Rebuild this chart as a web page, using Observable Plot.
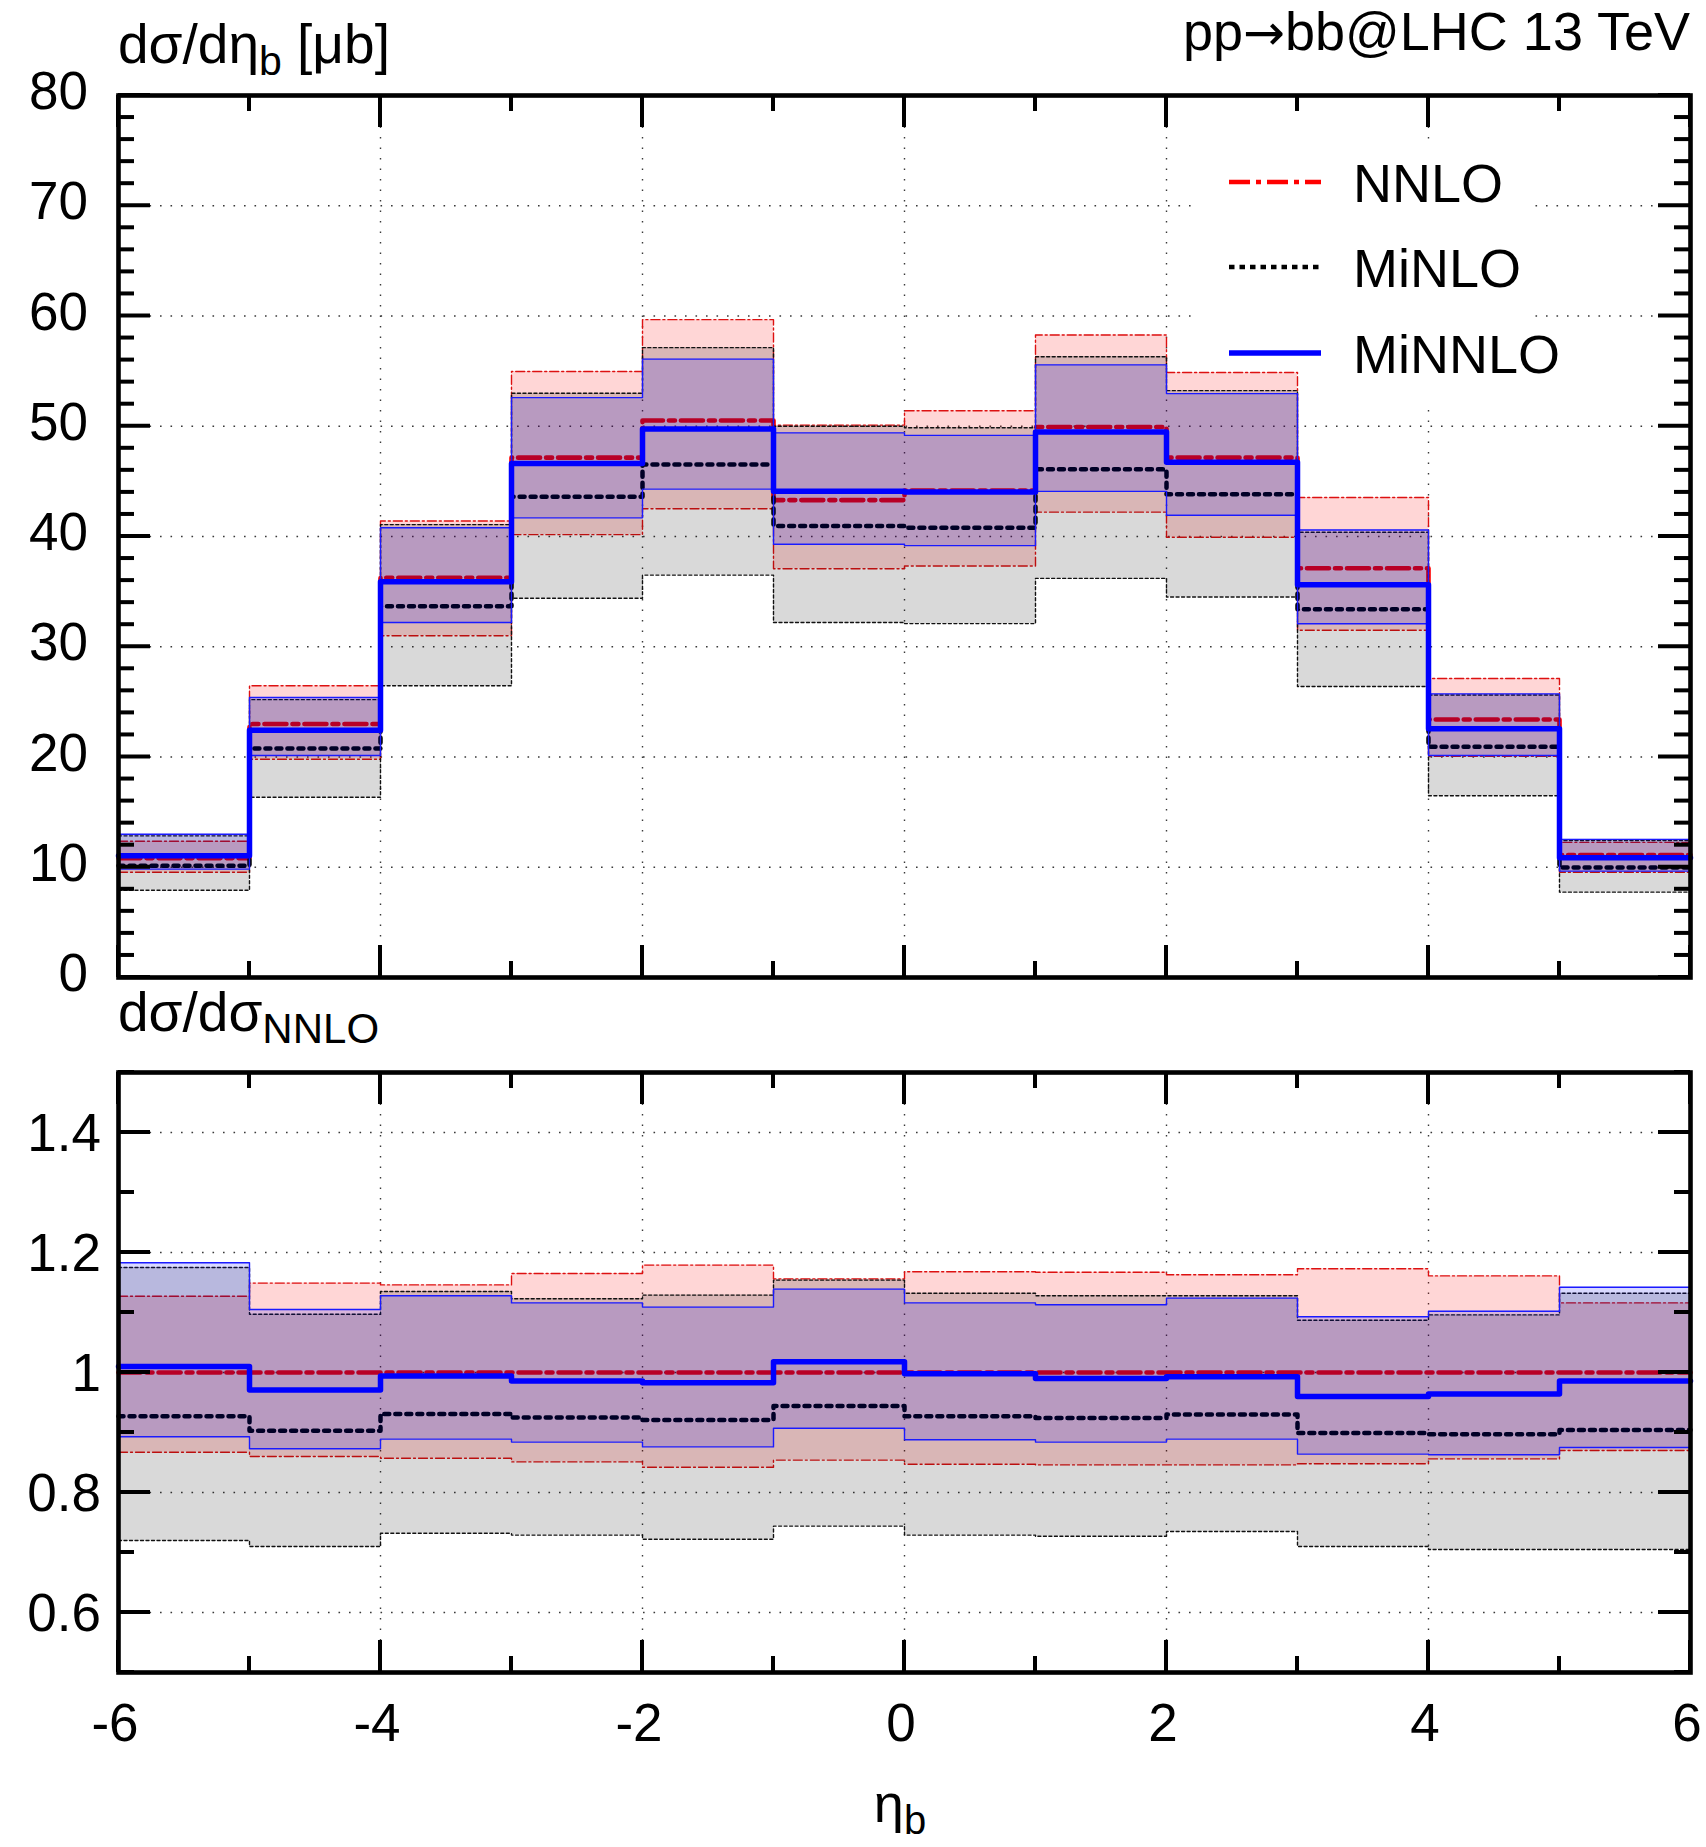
<!DOCTYPE html>
<html>
<head>
<meta charset="utf-8">
<script src="https://cdn.jsdelivr.net/npm/d3@7"></script>
<script src="https://cdn.jsdelivr.net/npm/@observablehq/plot@0.6"></script>
<style>
html, body { margin: 0; padding: 0; background: #fff; }
#chart { position: relative; width: 1706px; height: 1847px; background: #fff; }
#chart svg { display: block; }
</style>
</head>
<body>
<div id="chart"></div>
<script>
// ---------- data ----------
const etaEdges = [-6, -5, -4, -3, -2, -1, 0, 1, 2, 3, 4, 5, 6];

// upper panel: dsigma/deta_b [mub]
const nnlo     = [10.83, 22.99, 36.25, 47.15, 50.52, 43.30, 44.17, 49.93, 47.15, 37.12, 23.40, 11.10];
const nnloLo   = [9.55, 19.80, 31.00, 40.17, 42.52, 37.08, 37.33, 42.21, 39.93, 31.49, 20.07, 9.55];
const nnloHi   = [12.36, 26.46, 41.40, 54.97, 59.67, 50.10, 51.40, 58.28, 54.87, 43.54, 27.12, 12.26];
const minlo    = [10.14, 20.76, 33.68, 43.60, 46.52, 40.96, 40.80, 46.10, 43.84, 33.40, 20.94, 9.97];
const minloLo  = [7.92, 16.35, 26.46, 34.40, 36.50, 32.20, 32.10, 36.20, 34.51, 26.39, 16.49, 7.74];
const minloHi  = [12.85, 25.20, 41.08, 52.99, 57.13, 50.00, 49.86, 56.30, 53.23, 40.38, 25.63, 12.43];
const minnlo   = [11.04, 22.43, 35.90, 46.63, 49.76, 44.10, 44.03, 49.48, 46.73, 35.63, 22.57, 10.87];
const minnloLo = [9.83, 20.14, 32.20, 41.69, 44.30, 39.30, 39.17, 44.09, 41.93, 32.08, 20.14, 9.65];
const minnloHi = [13.00, 25.40, 40.80, 52.60, 56.09, 49.40, 49.17, 55.57, 52.96, 40.59, 25.73, 12.53];

// lower panel: ratio to NNLO
const rNnlo     = [1, 1, 1, 1, 1, 1, 1, 1, 1, 1, 1, 1];
const rNnloLo   = [0.867, 0.860, 0.857, 0.851, 0.842, 0.854, 0.847, 0.846, 0.846, 0.848, 0.856, 0.870];
const rNnloHi   = [1.127, 1.149, 1.146, 1.165, 1.179, 1.156, 1.168, 1.167, 1.163, 1.173, 1.161, 1.116];
const rMinlo    = [0.927, 0.903, 0.931, 0.925, 0.921, 0.944, 0.927, 0.924, 0.930, 0.899, 0.897, 0.904];
const rMinloLo  = [0.720, 0.710, 0.732, 0.729, 0.722, 0.744, 0.729, 0.727, 0.735, 0.710, 0.705, 0.705];
const rMinloHi  = [1.175, 1.097, 1.135, 1.123, 1.129, 1.154, 1.132, 1.128, 1.128, 1.087, 1.096, 1.132];
const rMinnlo   = [1.010, 0.971, 0.994, 0.986, 0.983, 1.018, 0.998, 0.990, 0.993, 0.960, 0.964, 0.986];
const rMinnloLo = [0.893, 0.873, 0.889, 0.884, 0.876, 0.907, 0.888, 0.884, 0.889, 0.864, 0.863, 0.875];
const rMinnloHi = [1.183, 1.105, 1.128, 1.116, 1.109, 1.139, 1.116, 1.113, 1.124, 1.093, 1.102, 1.142];

// ticks / labels
const xMajorTicks = [-6, -4, -2, 0, 2, 4, 6];
const xMinorTicks = [-5, -3, -1, 1, 3, 5];
const xGridLines = [-4, -2, 0, 2, 4];
const xTickLabels = ["-6", "-4", "-2", "0", "2", "4", "6"];
const yTopMajor = [0, 10, 20, 30, 40, 50, 60, 70, 80];
const yTopMinor = [2, 4, 6, 8, 12, 14, 16, 18, 22, 24, 26, 28, 32, 34, 36, 38, 42, 44, 46, 48, 52, 54, 56, 58, 62, 64, 66, 68, 72, 74, 76, 78];
const yTopGrid = [10, 20, 30, 40, 50, 60, 70];
const yTopLabels = ["0", "10", "20", "30", "40", "50", "60", "70", "80"];
const yBotMajor = [0.6, 0.8, 1.0, 1.2, 1.4];
const yBotMinor = [0.5, 0.7, 0.9, 1.1, 1.3, 1.5];
const yBotGrid = [0.6, 0.8, 1.0, 1.2, 1.4];
const yBotLabels = ["0.6", "0.8", "1", "1.2", "1.4"];

const seriesNames = ["NNLO", "MiNLO", "MiNNLO"];

// ---------- styles ----------
const FONT = "'Liberation Sans', Arial, Helvetica, sans-serif";
const TICKFONT = 53;
const styles = {
  NNLO:   {color: "#ff0000", alpha: 0.16, width: 4.6, dash: "22,6,6,6", edge: "#dd1111", edgeDash: "9,3,2,3"},
  MiNLO:  {color: "#000000", alpha: 0.15, width: 4.5, dash: "5,6", edge: "#111111", edgeDash: "3,2.5"},
  MiNNLO: {color: "#0000ff", alpha: 0.15, width: 5.5, dash: null, edge: "#1a1aff", edgeDash: null}
};

function steps(c, lo, hi) {
  const rows = c.map((v, i) => ({x: etaEdges[i], c: v, lo: lo[i], hi: hi[i]}));
  rows.push({...rows[rows.length - 1], x: etaEdges[etaEdges.length - 1]});
  return rows;
}

const W = 1706, ML = 118, MR = 16;

function panel({height, marginTop, marginBottom, yDomain, yGrid, data}) {
  const gridStyle = {stroke: "#3a3a3a", strokeWidth: 1.4, strokeDasharray: "1.6,8.9"};
  const marks = [
    Plot.ruleY(yGrid, gridStyle),
    Plot.ruleX(xGridLines, gridStyle)
  ];
  data.forEach((rows, k) => {
    const s = styles[seriesNames[k]];
    marks.push(Plot.areaY(rows, {x: "x", y1: "lo", y2: "hi", curve: "step-after", fill: s.color, fillOpacity: s.alpha}));
    const edge = {x: "x", curve: "step-after", stroke: s.edge, strokeWidth: 1.4};
    if (s.edgeDash) edge.strokeDasharray = s.edgeDash;
    marks.push(Plot.line(rows, {...edge, y: "lo"}));
    marks.push(Plot.line(rows, {...edge, y: "hi"}));
    const cen = {x: "x", y: "c", curve: "step-after", stroke: s.color, strokeWidth: s.width};
    if (s.dash) cen.strokeDasharray = s.dash;
    marks.push(Plot.line(rows, cen));
  });
  marks.push(Plot.frame({stroke: "#000", strokeWidth: 4.6}));
  return Plot.plot({
    width: W, height, marginLeft: ML, marginRight: MR, marginTop, marginBottom,
    x: {domain: [-6, 6], axis: null},
    y: {domain: yDomain, axis: null},
    style: {background: "transparent", overflow: "visible"},
    marks
  });
}

function scalesOf(chart) {
  const sx = chart.scale("x"), sy = chart.scale("y");
  return {
    x: d3.scaleLinear(sx.domain, sx.range),
    y: d3.scaleLinear(sy.domain, sy.range),
    xr: sx.range, yr: sy.range
  };
}

function addTicks(chart, yMajor, yMinor) {
  const svg = d3.select(chart);
  const {x, y, xr, yr} = scalesOf(chart);
  const g = svg.append("g").attr("stroke", "#000").attr("stroke-width", 4);
  const L = 32, l = 16;
  const yBottom = Math.max(...yr), yTop = Math.min(...yr);
  const xLeft = Math.min(...xr), xRight = Math.max(...xr);
  for (const [vals, len] of [[xMajorTicks, L], [xMinorTicks, l]]) {
    for (const v of vals) {
      g.append("line").attr("x1", x(v)).attr("x2", x(v)).attr("y1", yTop).attr("y2", yTop + len);
      g.append("line").attr("x1", x(v)).attr("x2", x(v)).attr("y1", yBottom).attr("y2", yBottom - len);
    }
  }
  for (const [vals, len] of [[yMajor, L], [yMinor, l]]) {
    for (const v of vals) {
      g.append("line").attr("y1", y(v)).attr("y2", y(v)).attr("x1", xLeft).attr("x2", xLeft + len);
      g.append("line").attr("y1", y(v)).attr("y2", y(v)).attr("x1", xRight).attr("x2", xRight - len);
    }
  }
  return {x, y};
}

function txt(sel, x, y, size, anchor) {
  return sel.append("text").attr("x", x).attr("y", y)
    .attr("font-family", FONT).attr("font-size", size).attr("fill", "#000")
    .attr("text-anchor", anchor || "start");
}

// ---------- build ----------
const container = document.getElementById("chart");

const upperH = 990;
const upper = panel({
  height: upperH, marginTop: 95, marginBottom: 13, yDomain: [0, 80], yGrid: yTopGrid,
  data: [steps(nnlo, nnloLo, nnloHi), steps(minlo, minloLo, minloHi), steps(minnlo, minnloLo, minnloHi)]
});
container.appendChild(upper);

const lower = panel({
  height: 857, marginTop: 82, marginBottom: 175, yDomain: [0.5, 1.5], yGrid: yBotGrid,
  data: [steps(rNnlo, rNnloLo, rNnloHi), steps(rMinlo, rMinloLo, rMinloHi), steps(rMinnlo, rMinnloLo, rMinnloHi)]
});
container.appendChild(lower);

// upper decorations
{
  const {x, y} = addTicks(upper, yTopMajor, yTopMinor);
  const svg = d3.select(upper);
  // legend background box (opaque key), inserted under the bands
  const firstArea = upper.querySelector('g[aria-label="area"]');
  const rect = document.createElementNS("http://www.w3.org/2000/svg", "rect");
  const xR = x(6);
  rect.setAttribute("x", xR - 491); rect.setAttribute("width", 332);
  rect.setAttribute("y", 140); rect.setAttribute("height", 265);
  rect.setAttribute("fill", "#fff");
  if (firstArea) upper.insertBefore(rect, firstArea); else upper.appendChild(rect);

  yTopMajor.forEach((v, i) => txt(svg, 88, y(v) + 14, TICKFONT, "end").text(yTopLabels[i]));

  const t = txt(svg, 118, 63, 55);
  t.append("tspan").text("dσ/dη");
  t.append("tspan").attr("font-size", 41).attr("dy", 12).text("b");
  t.append("tspan").attr("dy", -12).text(" [μb]");

  const tr = txt(svg, xR, 50, 54, "end");
  tr.append("tspan").text("pp");
  tr.append("tspan").attr("font-family", "'DejaVu Sans', sans-serif").attr("font-size", 50).text("→");
  tr.append("tspan").text("bb@LHC 13 TeV");

  // legend
  const lg = svg.append("g");
  const ys = [182, 267, 353];
  seriesNames.forEach((name, i) => {
    const s = styles[name];
    const ln = lg.append("line").attr("x1", xR - 461).attr("x2", xR - 369)
      .attr("y1", ys[i]).attr("y2", ys[i]).attr("stroke", s.color).attr("stroke-width", s.width);
    if (s.dash) ln.attr("stroke-dasharray", name === "MiNLO" ? "5.5,5" : "21,6,5,6");
    txt(lg, xR - 337, ys[i] + 20, 54).text(name);
  });
}

// lower decorations
{
  const {x, y} = addTicks(lower, yBotMajor, yBotMinor);
  const svg = d3.select(lower);
  yBotMajor.forEach((v, i) => txt(svg, 101, y(v) + 19, TICKFONT, "end").text(yBotLabels[i]));
  xMajorTicks.forEach((v, i) => txt(svg, x(v) - 3, 751, TICKFONT, "middle").text(xTickLabels[i]));

  const t = txt(svg, 118, 41, 55);
  t.append("tspan").text("dσ/dσ");
  t.append("tspan").attr("font-size", 42).attr("dy", 12).text("NNLO");

  const e = txt(svg, (x(-6) + x(6)) / 2 - 4, 832, 54, "middle");
  e.append("tspan").text("η");
  e.append("tspan").attr("font-size", 40).attr("dy", 12).text("b");
}
</script>
</body>
</html>
